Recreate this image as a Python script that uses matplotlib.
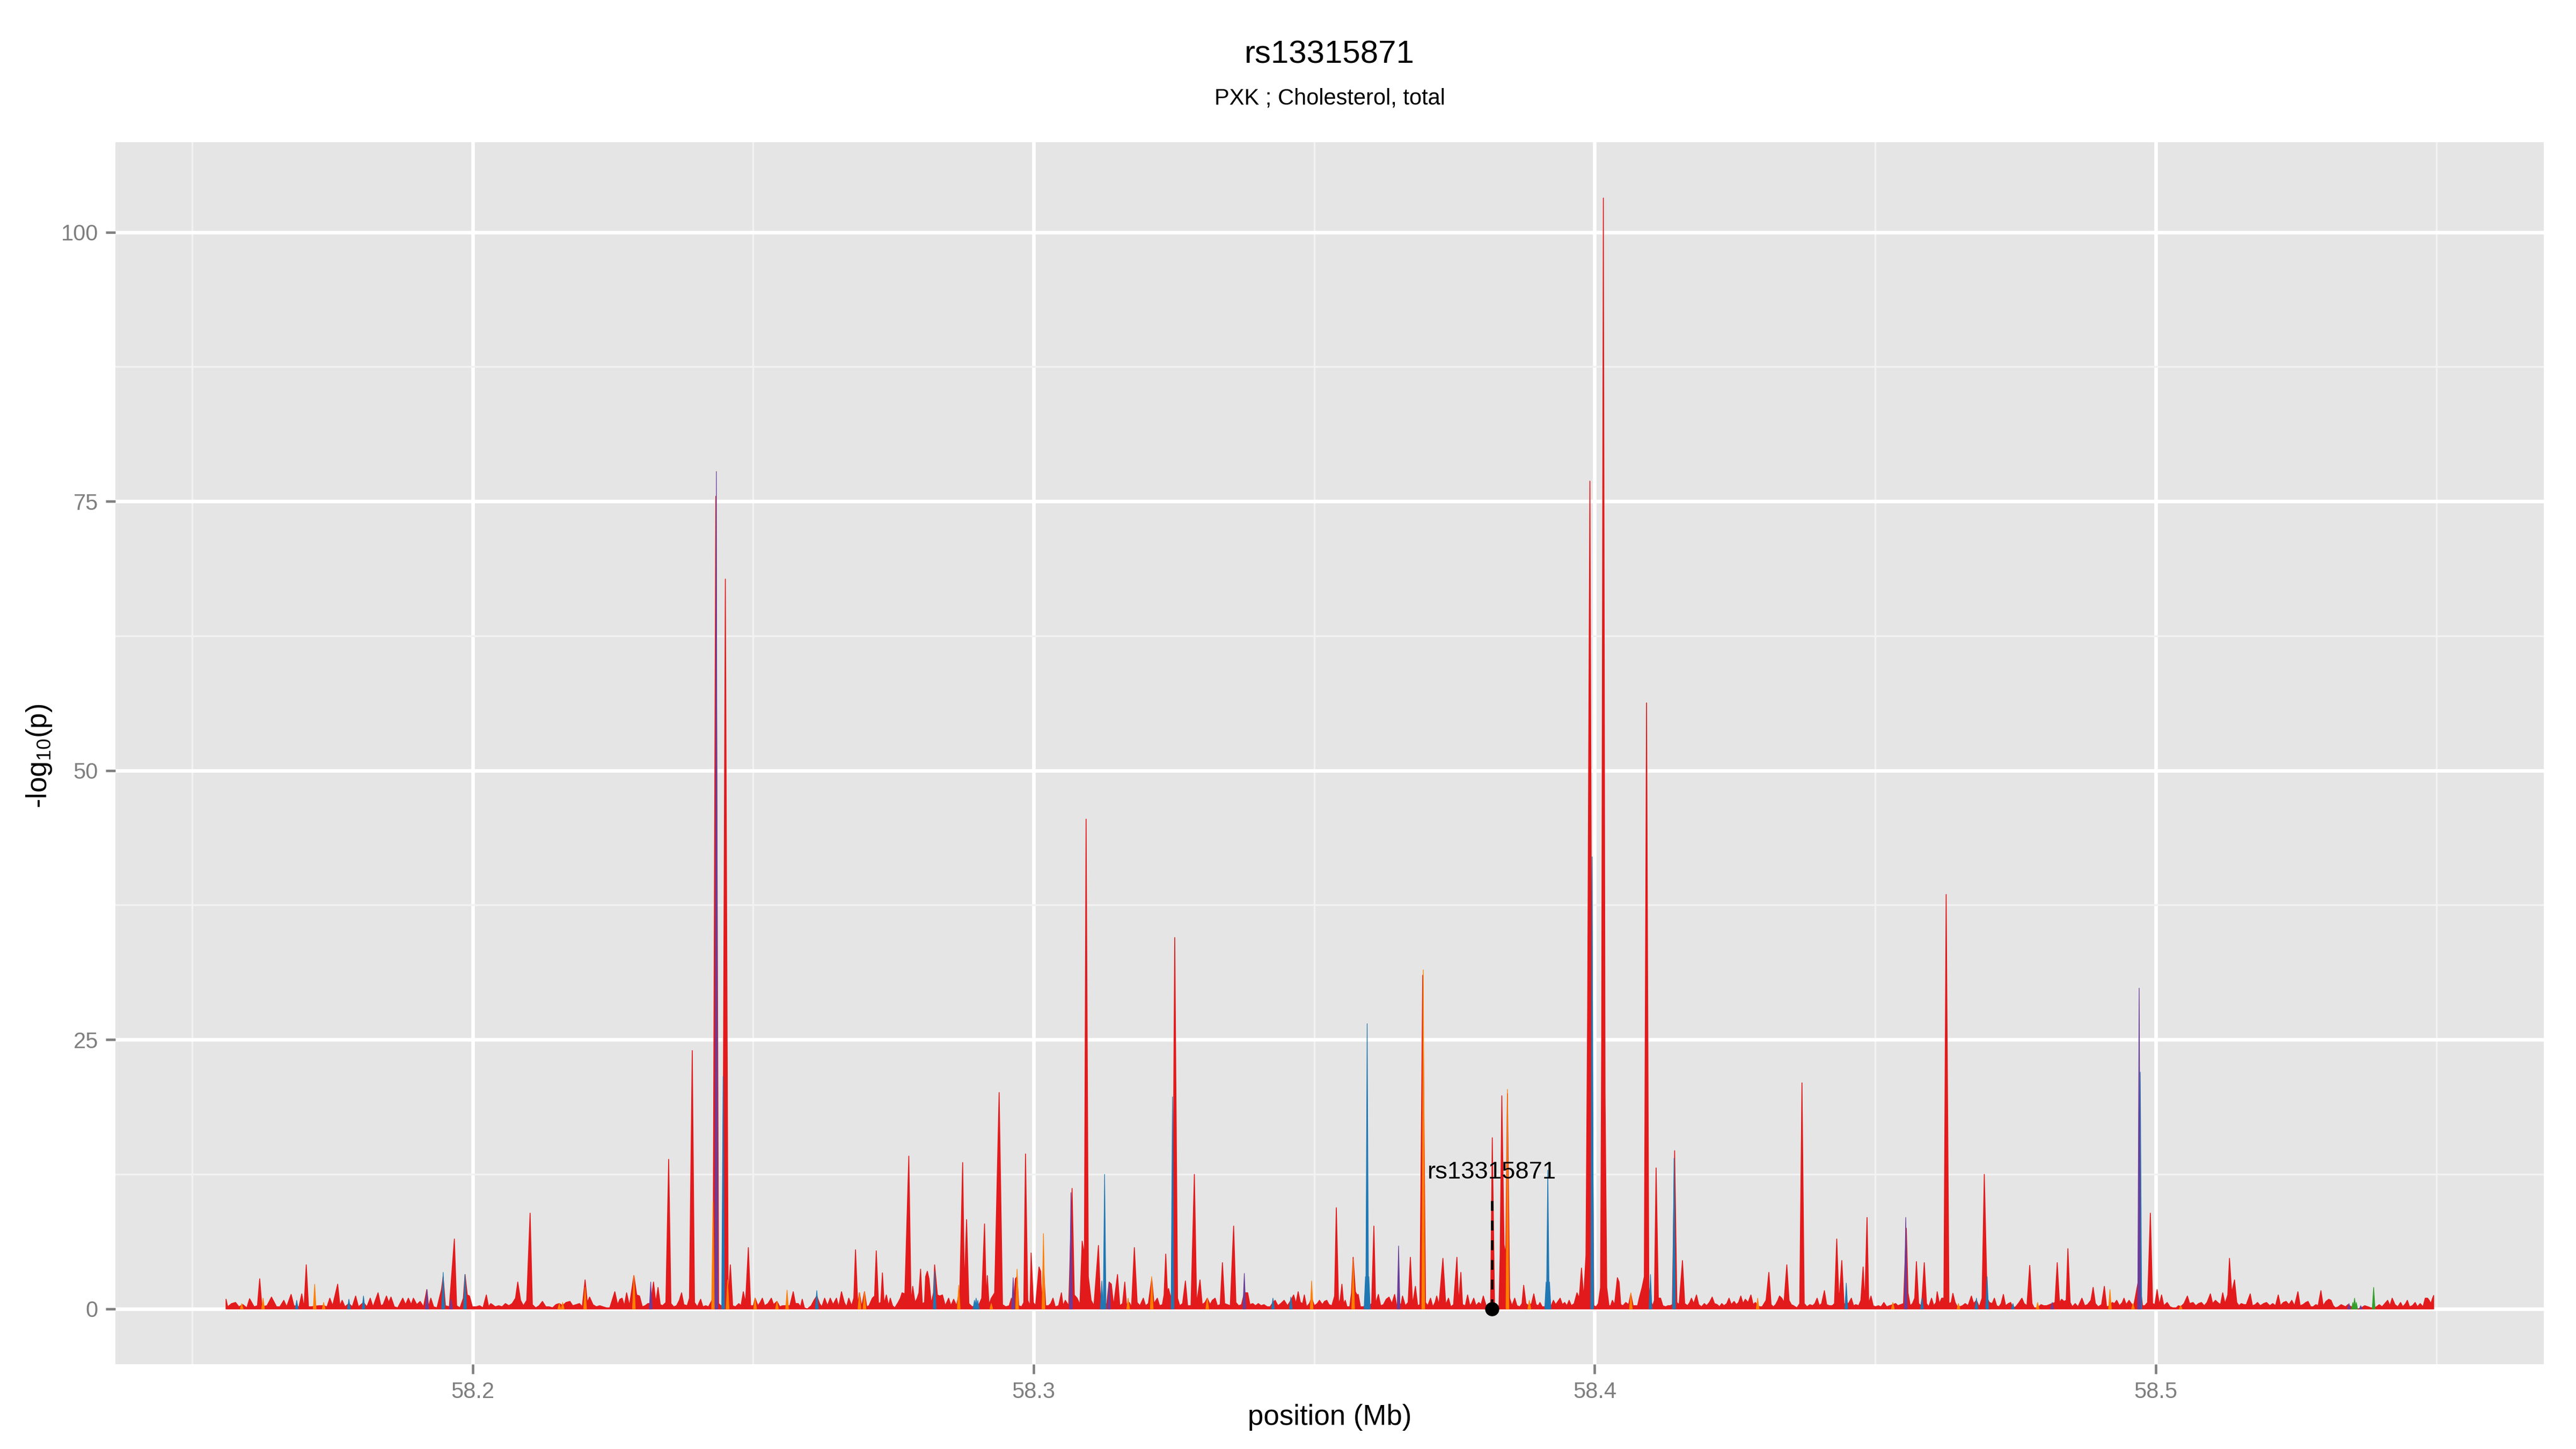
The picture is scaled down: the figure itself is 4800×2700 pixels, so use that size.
import numpy as np
import matplotlib
matplotlib.use("Agg")
import matplotlib.pyplot as plt

plt.rcParams['font.family'] = ['Liberation Sans', 'DejaVu Sans']
plt.rcParams['mathtext.fontset'] = 'custom'
plt.rcParams['mathtext.rm'] = 'Liberation Sans'
plt.rcParams['mathtext.it'] = 'Liberation Sans'

# --- data (position in Mb, -log10 p) ---
title = "rs13315871"
subtitle = "PXK ; Cholesterol, total"
lead_snp = "rs13315871"
lead_pos = 58.3817
lead_label_y = 12.08
lead_line_top = 10.3

x_ticks = [58.2, 58.3, 58.4, 58.5]
x_tick_labels = ["58.2", "58.3", "58.4", "58.5"]
x_minor = [58.15, 58.25, 58.35, 58.45, 58.55]
y_ticks = [0, 25, 50, 75, 100]
y_tick_labels = ["0", "25", "50", "75", "100"]
y_minor = [12.5, 37.5, 62.5, 87.5]

red_pos = [
    58.1560, 58.1563, 58.1570, 58.1577, 58.1583, 58.1590, 58.1597, 58.1602, 58.1610, 58.1616,
    58.1620, 58.1624, 58.1633, 58.1641, 58.1650, 58.1656, 58.1663, 58.1668, 58.1676, 58.1681,
    58.1690, 58.1695, 58.1699, 58.1703, 58.1707, 58.1712, 58.1725, 58.1734, 58.1740, 58.1745,
    58.1750, 58.1759, 58.1763, 58.1767, 58.1772, 58.1779, 58.1785, 58.1791, 58.1796, 58.1805,
    58.1811, 58.1817, 58.1822, 58.1831, 58.1836, 58.1840, 58.1846, 58.1850, 58.1854, 58.1860,
    58.1866, 58.1875, 58.1880, 58.1885, 58.1890, 58.1894, 58.1900, 58.1906, 58.1912, 58.1918,
    58.1921, 58.1925, 58.1930, 58.1936, 58.1944, 58.1947, 58.1951, 58.1958, 58.1967, 58.1971,
    58.1977, 58.1983, 58.1986, 58.1990, 58.1994, 58.1999, 58.2006, 58.2012, 58.2018, 58.2024,
    58.2028, 58.2032, 58.2040, 58.2046, 58.2052, 58.2058, 58.2064, 58.2070, 58.2076, 58.2080,
    58.2085, 58.2090, 58.2096, 58.2102, 58.2106, 58.2112, 58.2118, 58.2124, 58.2130, 58.2136,
    58.2142, 58.2148, 58.2154, 58.2160, 58.2166, 58.2173, 58.2178, 58.2184, 58.2190, 58.2195,
    58.2200, 58.2204, 58.2208, 58.2214, 58.2220, 58.2226, 58.2232, 58.2238, 58.2244, 58.2253,
    58.2258, 58.2262, 58.2266, 58.2270, 58.2274, 58.2279, 58.2287, 58.2292, 58.2297, 58.2302,
    58.2307, 58.2312, 58.2317, 58.2322, 58.2326, 58.2330, 58.2334, 58.2338, 58.2344, 58.2349,
    58.2353, 58.2358, 58.2363, 58.2368, 58.2372, 58.2376, 58.2382, 58.2386, 58.2391, 58.2395,
    58.2400, 58.2406, 58.2410, 58.2415, 58.2420, 58.2428, 58.2433, 58.2438, 58.2442, 58.2445,
    58.2450, 58.2455, 58.2459, 58.2463, 58.2468, 58.2474, 58.2478, 58.2482, 58.2486, 58.2491,
    58.2495, 58.2500, 58.2503, 58.2508, 58.2512, 58.2516, 58.2520, 58.2526, 58.2532, 58.2536,
    58.2542, 58.2547, 58.2552, 58.2556, 58.2565, 58.2571, 58.2575, 58.2580, 58.2584, 58.2587,
    58.2591, 58.2596, 58.2603, 58.2608, 58.2613, 58.2618, 58.2622, 58.2627, 58.2632, 58.2637,
    58.2642, 58.2648, 58.2652, 58.2657, 58.2662, 58.2666, 58.2670, 58.2675, 58.2679, 58.2682,
    58.2686, 58.2689, 58.2693, 58.2698, 58.2702, 58.2706, 58.2712, 58.2716, 58.2719, 58.2723,
    58.2727, 58.2730, 58.2733, 58.2737, 58.2741, 58.2744, 58.2748, 58.2752, 58.2758, 58.2762,
    58.2765, 58.2770, 58.2777, 58.2781, 58.2784, 58.2788, 58.2792, 58.2795, 58.2798, 58.2801,
    58.2805, 58.2807, 58.2810, 58.2813, 58.2817, 58.2821, 58.2823, 58.2828, 58.2832, 58.2837,
    58.2842, 58.2848, 58.2852, 58.2857, 58.2862, 58.2868, 58.2873, 58.2876, 58.2880, 58.2884,
    58.2890, 58.2896, 58.2902, 58.2907, 58.2912, 58.2915, 58.2917, 58.2920, 58.2924, 58.2930,
    58.2938, 58.2944, 58.2950, 58.2956, 58.2960, 58.2963, 58.2967, 58.2970, 58.2973, 58.2978,
    58.2982, 58.2985, 58.2989, 58.2993, 58.2995, 58.2999, 58.3003, 58.3009, 58.3012, 58.3014,
    58.3017, 58.3021, 58.3026, 58.3030, 58.3034, 58.3038, 58.3044, 58.3049, 58.3052, 58.3056,
    58.3062, 58.3068, 58.3072, 58.3077, 58.3082, 58.3086, 58.3090, 58.3093, 58.3097, 58.3102,
    58.3107, 58.3115, 58.3119, 58.3123, 58.3130, 58.3134, 58.3138, 58.3142, 58.3149, 58.3153,
    58.3158, 58.3162, 58.3165, 58.3170, 58.3174, 58.3179, 58.3184, 58.3189, 58.3195, 58.3199,
    58.3204, 58.3210, 58.3214, 58.3220, 58.3224, 58.3229, 58.3232, 58.3235, 58.3238, 58.3240,
    58.3244, 58.3247, 58.3251, 58.3256, 58.3260, 58.3265, 58.3270, 58.3274, 58.3280, 58.3286,
    58.3290, 58.3296, 58.3300, 58.3305, 58.3309, 58.3314, 58.3318, 58.3323, 58.3327, 58.3332,
    58.3336, 58.3340, 58.3345, 58.3350, 58.3356, 58.3360, 58.3365, 58.3370, 58.3375, 58.3381,
    58.3385, 58.3390, 58.3395, 58.3400, 58.3405, 58.3410, 58.3416, 58.3421, 58.3426, 58.3430,
    58.3435, 58.3440, 58.3446, 58.3452, 58.3458, 58.3463, 58.3467, 58.3471, 58.3475, 58.3479,
    58.3482, 58.3486, 58.3491, 58.3495, 58.3500, 58.3505, 58.3509, 58.3514, 58.3518, 58.3522,
    58.3526, 58.3531, 58.3536, 58.3539, 58.3543, 58.3546, 58.3549, 58.3552, 58.3555, 58.3558,
    58.3563, 58.3566, 58.3569, 58.3573, 58.3576, 58.3578, 58.3582, 58.3587, 58.3591, 58.3598,
    58.3602, 58.3606, 58.3609, 58.3614, 58.3618, 58.3623, 58.3628, 58.3633, 58.3638, 58.3643,
    58.3647, 58.3650, 58.3654, 58.3657, 58.3662, 58.3667, 58.3671, 58.3675, 58.3680, 58.3684,
    58.3688, 58.3693, 58.3698, 58.3702, 58.3707, 58.3711, 58.3715, 58.3718, 58.3722, 58.3729,
    58.3734, 58.3739, 58.3743, 58.3748, 58.3754, 58.3757, 58.3761, 58.3764, 58.3769, 58.3773,
    58.3777, 58.3780, 58.3784, 58.3788, 58.3793, 58.3797, 58.3801, 58.3806, 58.3810, 58.3814,
    58.3817, 58.3821, 58.3825, 58.3829, 58.3831, 58.3834, 58.3838, 58.3841, 58.3844, 58.3848,
    58.3852, 58.3857, 58.3861, 58.3866, 58.3870, 58.3873, 58.3877, 58.3882, 58.3887, 58.3891,
    58.3895, 58.3899, 58.3902, 58.3906, 58.3910, 58.3922, 58.3926, 58.3930, 58.3934, 58.3938,
    58.3942, 58.3946, 58.3950, 58.3954, 58.3958, 58.3963, 58.3968, 58.3972, 58.3976, 58.3980,
    58.3984, 58.3987, 58.3991, 58.3994, 58.3998, 58.4002, 58.4006, 58.4010, 58.4012, 58.4015,
    58.4018, 58.4021, 58.4025, 58.4028, 58.4031, 58.4035, 58.4040, 58.4043, 58.4046, 58.4050,
    58.4055, 58.4060, 58.4064, 58.4068, 58.4072, 58.4076, 58.4079, 58.4084, 58.4088, 58.4092,
    58.4096, 58.4099, 58.4103, 58.4106, 58.4109, 58.4113, 58.4117, 58.4121, 58.4126, 58.4130,
    58.4134, 58.4138, 58.4142, 58.4146, 58.4150, 58.4156, 58.4160, 58.4165, 58.4169, 58.4172,
    58.4176, 58.4181, 58.4185, 58.4190, 58.4195, 58.4199, 58.4204, 58.4209, 58.4213, 58.4218,
    58.4222, 58.4226, 58.4230, 58.4235, 58.4239, 58.4243, 58.4248, 58.4252, 58.4256, 58.4260,
    58.4264, 58.4268, 58.4273, 58.4278, 58.4282, 58.4286, 58.4290, 58.4294, 58.4298, 58.4305,
    58.4310, 58.4314, 58.4318, 58.4322, 58.4326, 58.4329, 58.4333, 58.4337, 58.4342, 58.4346,
    58.4350, 58.4354, 58.4360, 58.4365, 58.4369, 58.4373, 58.4378, 58.4383, 58.4388, 58.4392,
    58.4396, 58.4400, 58.4404, 58.4409, 58.4413, 58.4418, 58.4423, 58.4427, 58.4431, 58.4435,
    58.4440, 58.4444, 58.4448, 58.4452, 58.4457, 58.4461, 58.4465, 58.4470, 58.4474, 58.4478,
    58.4481, 58.4485, 58.4488, 58.4492, 58.4496, 58.4500, 58.4505, 58.4510, 58.4515, 58.4520,
    58.4525, 58.4531, 58.4536, 58.4540, 58.4545, 58.4550, 58.4555, 58.4558, 58.4562, 58.4566,
    58.4570, 58.4573, 58.4577, 58.4581, 58.4583, 58.4587, 58.4591, 58.4595, 58.4600, 58.4604,
    58.4608, 58.4610, 58.4614, 58.4618, 58.4622, 58.4626, 58.4631, 58.4635, 58.4638, 58.4642,
    58.4646, 58.4650, 58.4655, 58.4660, 58.4665, 58.4671, 58.4675, 58.4680, 58.4685, 58.4690,
    58.4694, 58.4699, 58.4703, 58.4708, 58.4712, 58.4716, 58.4720, 58.4724, 58.4728, 58.4732,
    58.4737, 58.4741, 58.4745, 58.4750, 58.4756, 58.4761, 58.4765, 58.4770, 58.4775, 58.4779,
    58.4783, 58.4789, 58.4795, 58.4800, 58.4805, 58.4810, 58.4815, 58.4820, 58.4824, 58.4828,
    58.4832, 58.4836, 58.4840, 58.4843, 58.4847, 58.4851, 58.4856, 58.4861, 58.4868, 58.4873,
    58.4878, 58.4884, 58.4888, 58.4892, 58.4897, 58.4903, 58.4908, 58.4912, 58.4918, 58.4922,
    58.4926, 58.4930, 58.4935, 58.4940, 58.4943, 58.4947, 58.4952, 58.4956, 58.4960, 58.4965,
    58.4970, 58.4976, 58.4980, 58.4985, 58.4990, 58.4994, 58.4998, 58.5002, 58.5006, 58.5010,
    58.5014, 58.5020, 58.5025, 58.5030, 58.5036, 58.5040, 58.5044, 58.5050, 58.5056, 58.5060,
    58.5066, 58.5071, 58.5076, 58.5081, 58.5086, 58.5091, 58.5097, 58.5101, 58.5106, 58.5110,
    58.5115, 58.5119, 58.5123, 58.5128, 58.5131, 58.5135, 58.5140, 58.5144, 58.5148, 58.5152,
    58.5157, 58.5161, 58.5168, 58.5172, 58.5177, 58.5181, 58.5186, 58.5192, 58.5197, 58.5203,
    58.5208, 58.5213, 58.5218, 58.5222, 58.5227, 58.5232, 58.5237, 58.5242, 58.5247, 58.5253,
    58.5257, 58.5262, 58.5267, 58.5271, 58.5276, 58.5280, 58.5285, 58.5289, 58.5294, 58.5298,
    58.5303, 58.5308, 58.5312, 58.5316, 58.5320, 58.5325, 58.5330, 58.5334, 58.5338, 58.5342,
    58.5348, 58.5354, 58.5360, 58.5366, 58.5372, 58.5378, 58.5383, 58.5388, 58.5393, 58.5398,
    58.5403, 58.5408, 58.5413, 58.5417, 58.5421, 58.5426, 58.5431, 58.5436, 58.5440, 58.5445,
    58.5448, 58.5452, 58.5457, 58.5462, 58.5466, 58.5471, 58.5476, 58.5480, 58.5484, 58.5487,
    58.5490, 58.5493, 58.5495,
]
red_val = [
    0.9, 0.2, 0.5, 0.6, 0.2, 0.4, 0.1, 0.95, 0.2, 0.3,
    2.8, 0.2, 0.3, 1.1, 0.2, 0.2, 0.8, 0.2, 1.35, 0.3,
    0.2, 1.4, 0.1, 4.1, 0.2, 0.2, 0.3, 0.3, 0.2, 1.0,
    0.3, 2.3, 0.3, 0.8, 0.2, 0.5, 0.2, 1.2, 0.2, 0.6,
    0.2, 1.0, 0.2, 1.5, 0.3, 0.4, 1.2, 0.6, 1.1, 0.2,
    0.1, 1.0, 0.4, 1.0, 0.4, 1.0, 0.4, 0.7, 0.2, 1.8,
    0.2, 1.0, 0.2, 0.1, 1.8, 3.0, 0.3, 0.2, 6.5, 0.3,
    0.1, 1.0, 3.2, 1.3, 1.2, 0.2, 0.2, 0.3, 0.1, 1.3,
    0.2, 0.5, 0.2, 0.3, 0.2, 0.5, 0.3, 0.5, 1.0, 2.5,
    0.8, 0.3, 0.8, 8.9, 0.4, 0.1, 0.3, 0.7, 0.2, 0.2,
    0.1, 0.4, 0.5, 0.3, 0.6, 0.7, 0.3, 0.4, 0.5, 0.2,
    2.7, 0.6, 1.1, 0.4, 0.2, 0.3, 0.2, 0.1, 0.1, 1.6,
    0.4, 0.9, 1.0, 0.3, 1.5, 0.3, 3.1, 1.3, 1.2, 0.2,
    0.3, 0.5, 0.5, 2.5, 0.6, 2.0, 0.4, 0.3, 0.6, 13.9,
    0.5, 0.2, 0.3, 0.8, 1.5, 0.4, 0.3, 1.0, 24.0, 0.6,
    0.2, 0.9, 0.2, 0.3, 0.2, 1.0, 75.5, 0.5, 0.3, 0.3,
    67.8, 1.0, 4.1, 0.3, 0.2, 0.5, 0.3, 1.6, 0.6, 5.7,
    0.3, 0.3, 1.0, 0.3, 0.6, 1.0, 0.3, 0.5, 1.0, 0.4,
    0.7, 0.2, 0.3, 0.3, 0.3, 1.6, 0.5, 0.5, 0.2, 0.9,
    0.1, 0.0, 0.3, 0.8, 1.2, 0.5, 0.2, 1.0, 0.3, 1.0,
    0.4, 1.0, 0.2, 1.6, 0.6, 0.2, 1.0, 0.3, 1.0, 5.5,
    0.4, 1.5, 0.2, 1.6, 0.2, 0.3, 1.0, 1.2, 5.4, 0.5,
    0.6, 3.35, 0.5, 1.3, 0.3, 1.0, 0.3, 0.1, 0.6, 1.0,
    1.5, 1.4, 14.2, 0.6, 2.1, 0.6, 1.0, 1.5, 3.7, 0.5,
    0.6, 3.0, 3.5, 2.8, 0.5, 1.5, 4.1, 1.3, 1.2, 1.3,
    0.3, 1.0, 0.3, 0.9, 0.3, 1.8, 13.6, 2.0, 8.3, 0.5,
    0.2, 0.3, 0.4, 1.0, 7.9, 1.0, 3.1, 0.4, 1.0, 1.5,
    20.1, 0.4, 0.2, 0.3, 1.0, 0.3, 2.8, 3.0, 0.3, 0.2,
    0.6, 14.4, 0.8, 0.3, 5.2, 0.6, 0.3, 3.9, 3.5, 0.4,
    4.0, 0.3, 0.3, 0.5, 1.0, 0.2, 0.3, 1.5, 0.3, 0.8,
    0.3, 11.2, 1.3, 1.0, 0.4, 6.3, 5.0, 45.5, 3.0, 0.8,
    0.3, 5.9, 0.3, 0.3, 0.5, 2.5, 2.3, 0.3, 3.2, 0.3,
    0.5, 2.5, 0.4, 0.6, 0.2, 5.7, 0.6, 0.3, 1.0, 0.3,
    0.5, 2.8, 0.5, 1.0, 0.3, 0.4, 1.3, 5.1, 1.5, 1.9,
    1.0, 2.0, 34.5, 1.0, 0.3, 0.5, 2.6, 0.3, 0.3, 12.5,
    0.5, 2.7, 0.4, 0.6, 1.0, 0.4, 0.8, 1.0, 0.3, 0.4,
    4.3, 0.5, 0.4, 0.3, 7.7, 0.6, 0.3, 0.4, 1.5, 1.5,
    0.4, 0.5, 0.3, 0.5, 0.3, 0.4, 0.2, 0.2, 0.6, 0.8,
    0.3, 0.5, 0.8, 0.3, 0.8, 1.3, 0.5, 1.6, 0.6, 0.5,
    1.3, 0.2, 0.5, 1.0, 0.3, 0.5, 0.8, 0.4, 0.7, 0.8,
    0.4, 0.3, 1.2, 9.4, 0.5, 0.9, 2.3, 0.5, 0.8, 0.2,
    0.2, 1.5, 4.8, 1.6, 1.3, 1.35, 0.2, 0.2, 0.3, 0.3,
    0.5, 7.7, 0.5, 1.35, 0.3, 0.4, 0.9, 1.1, 0.5, 1.35,
    0.2, 0.8, 0.3, 1.2, 0.3, 0.6, 4.8, 0.4, 2.1, 0.3,
    0.4, 31.0, 0.6, 0.3, 1.0, 0.2, 0.6, 1.2, 0.4, 4.7,
    0.4, 1.0, 0.2, 0.4, 4.8, 0.5, 3.4, 0.4, 0.3, 1.3,
    0.3, 0.5, 1.0, 0.3, 0.6, 0.4, 1.2, 0.3, 0.4, 0.2,
    15.9, 0.5, 0.2, 0.3, 5.0, 19.8, 6.0, 5.0, 20.0, 1.0,
    0.3, 1.0, 0.3, 0.2, 0.5, 2.2, 0.5, 0.3, 0.5, 1.4,
    0.4, 0.3, 0.6, 0.2, 0.2, 0.3, 0.8, 0.4, 0.7, 1.0,
    0.4, 0.6, 0.3, 0.8, 0.3, 0.5, 1.5, 1.0, 3.8, 1.0,
    5.0, 28.0, 76.9, 30.0, 0.3, 0.2, 0.5, 2.0, 25.0, 103.2,
    20.0, 2.0, 0.3, 0.3, 0.8, 0.4, 2.9, 2.5, 0.4, 0.3,
    0.6, 0.4, 1.4, 0.3, 0.3, 0.3, 1.0, 2.0, 3.0, 56.3,
    2.0, 0.8, 0.3, 0.8, 13.1, 1.0, 1.0, 0.3, 0.2, 0.3,
    0.3, 0.4, 14.7, 0.6, 0.4, 4.5, 0.5, 0.3, 0.6, 1.0,
    0.5, 1.3, 0.4, 0.2, 0.5, 0.3, 0.6, 1.1, 0.5, 0.4,
    0.2, 0.5, 0.3, 0.5, 1.0, 0.4, 0.7, 0.4, 0.6, 1.2,
    0.5, 0.9, 0.6, 1.3, 0.4, 0.6, 0.3, 0.2, 0.2, 0.8,
    3.4, 0.4, 0.2, 0.4, 0.8, 1.2, 1.0, 0.6, 4.1, 0.8,
    0.4, 0.3, 0.1, 0.5, 21.0, 0.5, 0.2, 0.4, 0.3, 0.5,
    1.0, 0.3, 0.5, 1.7, 0.4, 0.3, 0.3, 0.5, 6.5, 0.6,
    4.5, 0.4, 0.6, 0.5, 1.0, 0.3, 0.4, 0.3, 0.8, 3.9,
    0.5, 8.5, 0.5, 1.2, 0.3, 0.2, 0.3, 0.2, 0.6, 0.2,
    0.3, 0.4, 0.5, 0.3, 0.4, 0.5, 7.5, 1.5, 0.3, 0.5,
    1.0, 4.4, 0.5, 0.3, 1.0, 4.3, 0.5, 0.2, 1.0, 0.3,
    0.6, 1.6, 0.5, 1.0, 1.0, 38.5, 0.5, 0.6, 1.45, 0.6,
    0.2, 0.2, 0.3, 0.5, 0.3, 1.2, 0.5, 0.8, 0.2, 1.0,
    12.5, 1.0, 0.6, 0.5, 1.0, 0.3, 0.2, 0.5, 1.35, 0.3,
    0.5, 0.6, 0.1, 0.2, 0.6, 1.0, 0.5, 0.3, 4.05, 0.5,
    0.1, 0.1, 0.4, 0.3, 0.3, 0.4, 0.5, 0.6, 4.3, 0.6,
    0.9, 0.7, 0.8, 5.6, 0.6, 0.2, 0.5, 0.2, 1.0, 0.3,
    0.4, 0.8, 2.0, 0.5, 0.2, 0.4, 2.1, 0.2, 0.3, 0.6,
    0.5, 0.8, 0.3, 0.6, 1.0, 0.4, 0.8, 0.5, 0.2, 1.6,
    3.0, 0.3, 0.3, 0.6, 8.9, 0.5, 0.4, 1.8, 0.4, 1.3,
    0.3, 0.6, 0.2, 0.1, 0.1, 0.3, 0.2, 0.5, 1.2, 0.5,
    0.6, 0.3, 0.5, 0.6, 0.3, 0.6, 1.4, 0.5, 0.8, 0.6,
    0.4, 1.5, 0.5, 1.3, 4.7, 1.5, 2.7, 0.6, 0.3, 0.5,
    0.4, 0.4, 1.4, 0.3, 0.4, 0.6, 0.3, 0.5, 0.6, 0.3,
    0.5, 0.3, 1.3, 0.3, 0.6, 0.7, 0.4, 0.8, 0.3, 1.6,
    0.3, 0.4, 0.6, 0.7, 0.2, 0.2, 0.4, 0.3, 1.7, 0.3,
    0.7, 0.9, 0.8, 0.3, 0.1, 0.2, 0.4, 0.3, 0.2, 0.4,
    0.2, 0.2, 0.0, 0.1, 0.3, 0.2, 0.1, 0.1, 0.2, 0.4,
    0.2, 0.5, 0.8, 0.3, 1.0, 0.4, 0.2, 0.6, 0.2, 0.5,
    0.8, 0.2, 0.3, 0.6, 0.2, 0.5, 0.2, 1.0, 1.0, 0.8,
    0.5, 1.0, 1.25,
]

blue_pos = [58.1686, 58.1779, 58.1805, 58.1918, 58.1947, 58.1986, 58.2446, 58.2613,
            58.2823, 58.2894, 58.2897, 58.2900, 58.3121, 58.3126, 58.3247, 58.3426,
            58.3458, 58.3591, 58.3594, 58.3597, 58.3913, 58.3916, 58.3919, 58.3995,
            58.4099, 58.4141, 58.4448, 58.4583, 58.4680, 58.4699, 58.4745, 58.4972]
blue_val = [0.8, 0.9, 1.2, 1.5, 3.4, 3.2, 21.6, 1.7,
            3.5, 0.8, 1.0, 0.8, 2.6, 12.5, 19.7, 1.0,
            1.1, 3.0, 26.5, 3.0, 2.5, 12.9, 2.5, 42.0,
            3.2, 14.0, 2.4, 1.0, 1.0, 3.0, 0.5, 22.0]

orange_pos = [58.1588, 58.1626, 58.1718, 58.1734, 58.2154, 58.2160, 58.2200, 58.2287,
              58.2428, 58.2454, 58.2503, 58.2542, 58.2560, 58.2689, 58.2698, 58.2866,
              58.2924, 58.2970, 58.3017, 58.3168, 58.3210, 58.3309, 58.3495, 58.3569,
              58.3694, 58.3844, 58.3883, 58.4064, 58.4290, 58.4531, 58.4648, 58.4789,
              58.4918, 58.4959, 58.5044]
orange_val = [0.5, 1.0, 2.3, 0.6, 0.5, 0.6, 2.0, 3.1,
              10.0, 2.7, 1.0, 0.7, 1.75, 1.5, 1.6, 2.2,
              0.5, 3.7, 7.0, 1.0, 3.0, 1.0, 2.6, 4.6,
              31.5, 20.4, 0.8, 1.5, 1.0, 0.6, 0.5, 0.6,
              1.8, 0.5, 0.3]

purple_pos = [58.1918, 58.1961, 58.2317, 58.2434, 58.2963, 58.3066, 58.3134,
              58.3375, 58.3650, 58.4554, 58.4815, 58.4970, 58.5344, 58.5365]
purple_val = [1.8, 0.9, 2.5, 77.8, 2.9, 10.8, 2.5,
              3.3, 5.85, 8.5, 0.6, 29.8, 0.5, 0.3]

green_pos = [58.5351, 58.5354, 58.5357, 58.5388]
green_val = [0.6, 1.0, 0.6, 2.0]

assert len(red_pos) == len(red_val)

# colours (Paired dark tones)
RED = "#E31A1C"
BLUE = "#1F78B4"
ORANGE = "#FF7F00"
PURPLE = "#6A3D9A"
GREEN = "#33A02C"
spike_hw = 0.00025  # half width of an isolated spike, Mb

fig = plt.figure(figsize=(16, 9), dpi=300)
ax = fig.add_axes([215 / 4800, 158 / 2700, 4525 / 4800, 2277 / 2700])
ax.set_facecolor("#E5E5E5")
for s in ax.spines.values():
    s.set_visible(False)

ax.fill_between(red_pos, red_val, 0, color=RED, lw=0.4, zorder=2)

def spikes(pos, val, col):
    for p, v in zip(pos, val):
        ax.fill_between([p - spike_hw, p, p + spike_hw], [0, v, 0], 0,
                        color=col, lw=0.3, zorder=3)

spikes(blue_pos, blue_val, BLUE)
spikes(orange_pos, orange_val, ORANGE)
spikes(purple_pos, purple_val, PURPLE)
spikes(green_pos, green_val, GREEN)

# lead SNP marker
ax.plot([lead_pos, lead_pos], [0, lead_line_top], color="black", lw=1.1,
        ls=(0, (4, 4)), zorder=5)
ax.plot([lead_pos], [0], "o", color="black", ms=5.3, zorder=6, clip_on=False)
ax.text(lead_pos, lead_label_y, lead_snp, ha="center", va="baseline",
        fontsize=10.9, color="black", zorder=6)

# scales with ggplot style 5% expansion
all_pos = red_pos + blue_pos + orange_pos + purple_pos + green_pos
xmin, xmax = min(all_pos), max(all_pos)
ymax = max(max(red_val), max(blue_val), max(orange_val), max(purple_val))
ax.set_xlim(xmin - 0.05 * (xmax - xmin), xmax + 0.05 * (xmax - xmin))
ax.set_ylim(-0.05 * ymax, ymax * 1.05)

ax.set_xticks(x_ticks)
ax.set_xticklabels(x_tick_labels)
ax.set_xticks(x_minor, minor=True)
ax.set_yticks(y_ticks)
ax.set_yticklabels(y_tick_labels)
ax.set_yticks(y_minor, minor=True)
ax.grid(which="major", color="white", lw=1.6, zorder=0)
ax.grid(which="minor", color="#F2F2F2", lw=0.8, zorder=0)
ax.set_axisbelow(True)
ax.tick_params(which="major", length=4.3, width=1.1, color="#7F7F7F",
               labelsize=10, labelcolor="#7F7F7F", pad=3.4)
ax.tick_params(which="minor", length=0)

cx = (215 + 4525 / 2) / 4800
fig.text(cx, 1 - 118 / 2700, title, ha="center", va="baseline", fontsize=14.4)
fig.text(cx, 1 - 195 / 2700, subtitle, ha="center", va="baseline", fontsize=10)
fig.text(cx, 1 - 2655 / 2700, "position (Mb)", ha="center", va="baseline", fontsize=12.7)
fig.text(73 / 4800, 1 - 1409 / 2700, r"-log$_{\mathregular{10}}$(p)", rotation=90,
         ha="center", va="center", fontsize=12.7)

fig.savefig("out.png", dpi=300)
